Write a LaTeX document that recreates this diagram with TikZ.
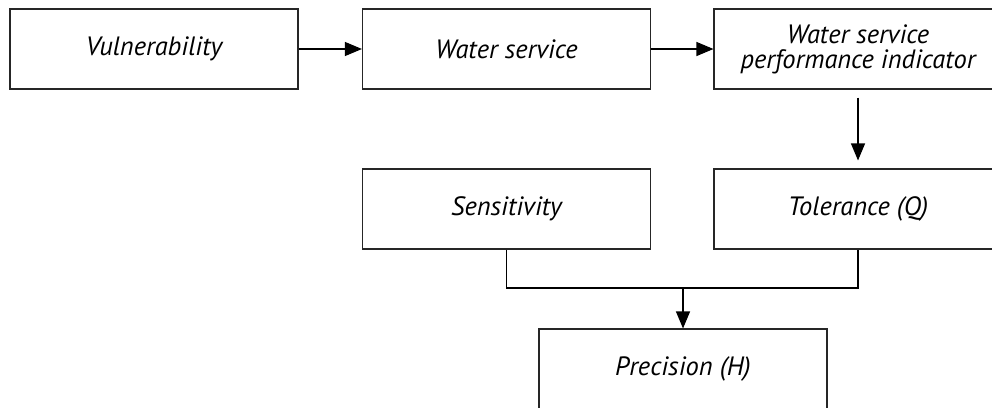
\documentclass[tikz,border=0pt]{standalone}
\usepackage{fontspec}
\setmainfont{PT Sans}
\usetikzlibrary{arrows.meta}
\begin{document}
\begin{tikzpicture}[x=1pt,y=-1pt,
  box/.style={draw=black!85,line width=1.1pt,rectangle,minimum width=288pt,minimum height=80pt,inner sep=0pt,align=center,font=\fontsize{26.5}{25}\selectfont\itshape},
  arr/.style={line width=1.1pt,-{Triangle[length=17pt,width=14pt]}},
  link/.style={line width=1.1pt}]
\useasboundingbox (0,0) rectangle (992,407);
\clip (0,0) rectangle (992,407);
\node[box] (vul) at (154,49) {Vulnerability};
\node[box] (ws) at (506.5,49) {Water service};
\node[box] (wspi) at (858,49) {Water service\\performance indicator};
\node[box] (sens) at (506.5,209) {Sensitivity};
\node[box] (tol) at (858,209) {Tolerance (Q)};
\node[box] (prec) at (683,369) {Precision (H)};
\coordinate (j) at (683,288);
\draw[arr] (vul) -- (ws);
\draw[arr] (ws) -- (wspi);
\draw[arr,shorten <=8pt,shorten >=8pt] (wspi) -- (tol);
\draw[link] (sens.south) |- (j) -| (tol.south);
\draw[arr] (j) -- (prec.north);
\end{tikzpicture}
\end{document}
